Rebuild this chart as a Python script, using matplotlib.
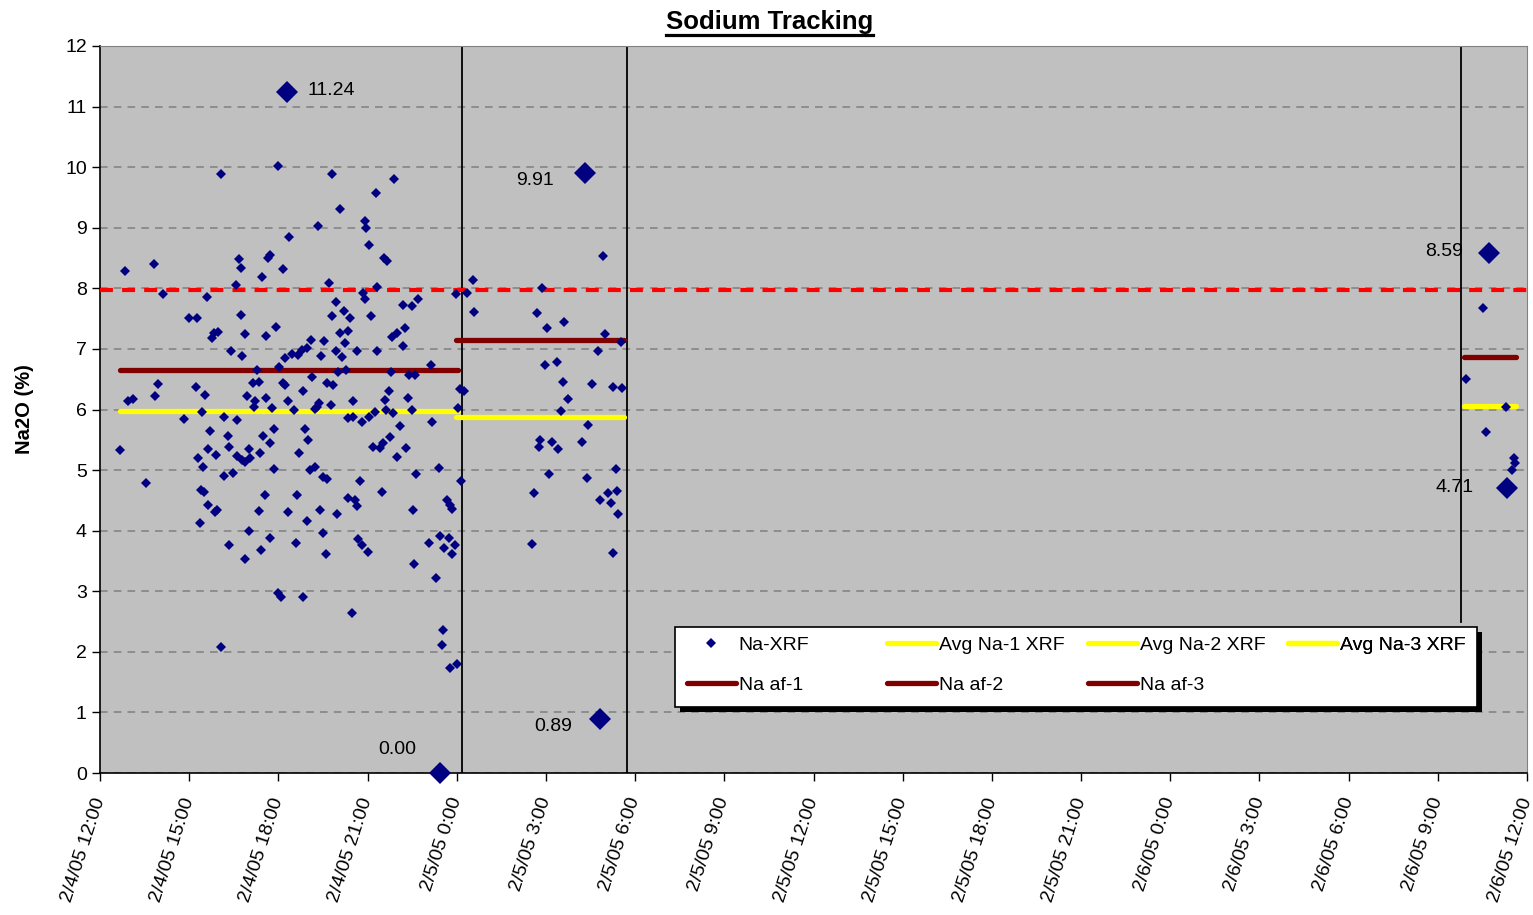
import matplotlib
matplotlib.use('Agg')
import matplotlib.pyplot as plt
import matplotlib.dates as mdates
from matplotlib.lines import Line2D
from matplotlib.patches import Rectangle
from matplotlib.ticker import FuncFormatter, MultipleLocator
import pandas as pd

plt.rcParams['font.family'] = ['Liberation Sans', 'DejaVu Sans']

start = pd.Timestamp('2005-02-04 12:00')

# Na-XRF readings: hours after 2/4/05 12:00, Na2O %
xrf_hours = [
    0.67, 0.84, 0.94, 1.11, 1.55, 1.82, 1.85, 1.95, 2.12, 2.83, 2.99, 3.26, 3.23, 3.30, 3.40,
    3.50, 3.36, 3.43, 3.46, 3.53, 3.60, 3.63, 3.63, 3.70, 3.77, 3.83, 3.97, 3.87, 3.94, 3.90,
    4.07, 4.07, 4.17, 4.17, 4.31, 4.34, 4.34, 4.41, 4.47, 4.57, 4.61, 4.61, 4.68, 4.74, 4.74,
    4.78, 4.78, 4.88, 4.88, 4.88, 4.94, 5.01, 5.01, 5.05, 5.15, 5.18, 5.21, 5.28, 5.35, 5.35,
    5.38, 5.42, 5.45, 5.48, 5.55, 5.58, 5.58, 5.65, 5.72, 5.72, 5.72, 5.79, 5.85, 5.85, 5.92,
    5.99, 5.99, 6.02, 6.09, 6.16, 6.16, 6.22, 6.22, 6.32, 6.32, 6.36,
    6.46, 6.66, 6.79, 6.96, 6.53, 6.59, 6.63, 6.69, 6.83, 6.83, 6.90, 6.96, 7.00, 7.06, 7.10,
    7.13, 7.23, 7.23, 7.30, 7.37, 7.33, 7.40, 7.43, 7.50, 7.50, 7.53, 7.60, 7.64, 7.64, 7.70,
    7.77, 7.80, 7.80, 7.84, 7.94, 7.94, 7.97, 8.01, 8.07, 8.07, 8.14, 8.21, 8.24, 8.27, 8.34,
    8.34, 8.34, 8.41, 8.48, 8.51, 8.51, 8.58, 8.64, 8.64, 8.68, 8.75, 8.81, 8.81, 8.85, 8.91,
    8.91, 8.95, 9.01, 9.05, 9.05, 9.12, 9.18, 9.25, 9.28, 9.32, 9.32, 9.42, 9.49, 9.52, 9.55,
    9.59, 9.62, 9.65, 9.72, 9.75, 9.79, 9.82, 9.86, 9.89, 9.99, 9.99, 10.09, 10.19, 10.19, 10.26,
    10.29, 10.36, 10.39, 10.49, 10.49, 10.53, 10.56, 10.60, 10.63, 10.70, 11.07, 11.13, 11.17, 11.30, 11.40,
    11.44, 11.50, 11.54, 11.57, 11.67, 11.74, 11.77, 11.77, 11.84, 11.84, 11.94, 12.01, 11.97, 12.04, 12.11,
    12.24, 12.14, 12.34, 12.55, 12.58,
    14.53, 14.60, 14.70, 14.77, 14.80, 14.87, 14.97, 15.04, 15.10, 15.20, 15.37, 15.41, 15.51, 15.57, 15.61,
    15.74, 16.21, 16.38, 16.41, 16.55, 16.75, 16.82, 16.92, 16.99, 17.09, 17.19, 17.26, 17.26, 17.36, 17.39,
    17.42, 17.52, 17.56,
    45.95, 46.52, 46.62, 47.29, 47.49, 47.56, 47.60,
]
xrf_values = [
    5.33, 8.29, 6.14, 6.17, 4.79, 8.40, 6.22, 6.42, 7.91, 5.84, 7.51, 7.51, 6.37, 5.20, 4.67,
    4.64, 4.13, 5.96, 5.05, 6.24, 7.86, 5.35, 4.42, 5.65, 7.18, 7.26, 7.28, 4.31, 4.34, 5.25,
    9.89, 2.08, 5.88, 4.90, 5.56, 5.38, 3.76, 6.97, 4.95, 8.06, 5.83, 5.23, 8.49, 8.34, 7.56,
    6.88, 5.17, 7.25, 5.13, 3.53, 6.22, 5.35, 4.00, 5.20, 6.44, 6.04, 6.14, 6.65, 6.45, 4.33,
    5.28, 3.68, 8.19, 5.56, 4.59, 7.21, 6.19, 8.50, 8.55, 5.45, 3.88, 6.03, 5.68, 5.02, 7.36,
    10.02, 2.97, 6.70, 2.91, 8.32, 6.44, 6.85, 6.41, 6.14, 4.31, 8.85,
    6.92, 6.90, 6.98, 7.02, 5.99, 3.80, 4.59, 5.28, 6.31, 2.91, 5.68, 4.16, 5.50, 5.00, 7.15,
    6.54, 5.05, 6.01, 6.04, 6.11, 9.03, 4.34, 6.88, 4.89, 3.96, 7.13, 3.62, 6.44, 4.85, 8.09,
    6.07, 9.89, 7.54, 6.40, 7.77, 6.97, 4.28, 6.62, 9.31, 7.26, 6.87, 7.63, 7.10, 6.65, 7.30,
    5.86, 4.54, 7.51, 2.64, 6.14, 5.88, 4.51, 6.97, 4.41, 3.86, 4.82, 5.79, 3.76, 7.92, 9.11,
    7.82, 9.00, 3.65, 8.72, 5.88, 7.54, 5.38, 5.96, 9.57, 8.02, 6.97, 5.36, 4.64, 5.45, 8.50,
    6.16, 5.99, 8.45, 6.31, 5.55, 6.62, 7.20, 5.94, 9.81, 7.26, 5.22, 5.73, 7.73, 7.05, 7.35,
    5.36, 6.19, 6.57, 7.71, 5.99, 4.34, 3.45, 6.57, 4.94, 7.82, 3.80, 6.74, 5.79, 3.22, 5.03,
    3.91, 2.11, 2.36, 3.71, 4.51, 3.88, 4.42, 1.73, 4.36, 3.62, 3.76, 1.80, 7.91, 6.03, 6.34,
    6.31, 4.82, 7.92, 8.14, 7.61,
    3.78, 4.62, 7.59, 5.38, 5.50, 8.01, 6.74, 7.35, 4.94, 5.46, 6.78, 5.35, 5.98, 6.45, 7.45,
    6.17, 5.46, 4.87, 5.74, 6.42, 6.97, 4.51, 8.53, 7.25, 4.62, 4.46, 6.37, 3.63, 5.02, 4.66,
    4.28, 7.12, 6.36,
    6.50, 7.68, 5.63, 6.04, 5.00, 5.20, 5.12,
]

# highlighted extremes (labelled)
big_hours = [6.29, 16.31, 16.82, 11.44, 46.72, 47.33]
big_values = [11.24, 9.91, 0.89, 0.00, 8.59, 4.71]
big_offsets = [(15, 1), (-22, -6), (-20, -5), (-17, 17), (-19, 1), (-24, 0)]
big_align = ['left', 'right', 'right', 'right', 'right', 'right']

# run averages / af values: (start hour, end hour, value)
avg_names = ['Avg Na-1 XRF', 'Avg Na-2 XRF', 'Avg Na-3 XRF']
avg_segments = [(0.67, 12.04, 5.98), (11.97, 17.63, 5.88), (45.88, 47.63, 6.06)]
af_names = ['Na af-1', 'Na af-2', 'Na af-3']
af_segments = [(0.67, 12.04, 6.66), (11.97, 17.63, 7.15), (45.88, 47.63, 6.86)]

limit_value = 7.98
divider_hours = [12.17, 17.72, 45.79]
divider_bottoms = [0, 0, 2.5]


def to_time(h):
    return (start + pd.Timedelta(hours=h)).to_pydatetime()


fig = plt.figure(figsize=(15.33, 9.15), dpi=100)
ax = fig.add_axes([100 / 1533, 1 - 773 / 915, 1427 / 1533, 727 / 915])
ax.set_facecolor('#C0C0C0')

ax.set_ylim(0, 12)
ax.set_xlim(to_time(0), to_time(48))
ax.yaxis.set_major_locator(MultipleLocator(1))
ax.grid(axis='y', color='#808080', linestyle=(0, (5, 4)), linewidth=1.1, zorder=0)
ax.set_axisbelow(True)

# divider lines
for h, b in zip(divider_hours, divider_bottoms):
    ax.plot([to_time(h), to_time(h)], [b, 12], color='black', linewidth=1.3, zorder=2)

# limit line
ax.axhline(limit_value, color='#FF0000', linewidth=3, dashes=(3.1, 2.2), zorder=3)

avg_handles = []
for name, (h0, h1, v) in zip(avg_names, avg_segments):
    ln, = ax.plot([to_time(h0), to_time(h1)], [v, v], color='#FFFF00', linewidth=3.8,
                  solid_capstyle='round', label=name, zorder=3)
    avg_handles.append(ln)

af_handles = []
for name, (h0, h1, v) in zip(af_names, af_segments):
    ln, = ax.plot([to_time(h0), to_time(h1)], [v, v], color='#800000', linewidth=3.8,
                  solid_capstyle='round', label=name, zorder=3)
    af_handles.append(ln)

xrf_times = [to_time(h) for h in xrf_hours]
pts, = ax.plot(xrf_times, xrf_values, linestyle='none', marker='D', markersize=5,
               markeredgewidth=0, color='#000080', label='Na-XRF', zorder=4)

big_times = [to_time(h) for h in big_hours]
ax.plot(big_times, big_values, linestyle='none', marker='D', markersize=11.5,
        markeredgewidth=0, color='#000080', zorder=5, clip_on=False)
for t, v, off, al in zip(big_times, big_values, big_offsets, big_align):
    ax.annotate(f'{v:.2f}', (t, v), xytext=off, textcoords='offset points',
                ha=al, va='center', fontsize=14, color='black', zorder=6)

# axes styling
for side in ['top', 'right']:
    ax.spines[side].set_color('#808080')
for side in ['left', 'bottom']:
    ax.spines[side].set_color('black')
    ax.spines[side].set_linewidth(1.2)

ax.xaxis.set_major_locator(mdates.HourLocator(byhour=range(0, 24, 3)))
ax.xaxis.set_major_formatter(FuncFormatter(
    lambda x, pos: (lambda d: f'{d.month}/{d.day}/{d:%y} {d.hour}:{d:%M}')(mdates.num2date(x))))
ax.tick_params(axis='both', direction='out', length=6, width=1, labelsize=14, colors='black')
ax.tick_params(axis='x', pad=12)
for lbl in ax.get_xticklabels():
    lbl.set_rotation(72)
    lbl.set_ha('right')
    lbl.set_va('center')
    lbl.set_rotation_mode('anchor')

ax.set_ylabel('Na2O (%)', fontsize=14.5, fontweight='bold', labelpad=22)

# legend: white box with black shadow, 4 fixed-width columns
fx0, fy0, fw, fh = 0.4029, 0.0908, 0.5621, 0.1100
ax.add_patch(Rectangle((fx0 + 0.0035, fy0 - 0.0069), fw, fh, transform=ax.transAxes,
                       facecolor='black', edgecolor='none', zorder=9, clip_on=False))
ax.add_patch(Rectangle((fx0, fy0), fw, fh, transform=ax.transAxes,
                       facecolor='white', edgecolor='black', linewidth=1.2, zorder=9.5,
                       clip_on=False))
columns = [[pts, af_handles[0]], [avg_handles[0], af_handles[1]],
           [avg_handles[1], af_handles[2]], [avg_handles[2]]]
col_x = [0.4114, 0.5515, 0.6924, 0.8325]
for hs, cx in zip(columns, col_x):
    lg = ax.legend(handles=hs, labels=[h.get_label() for h in hs], loc='upper left',
                   bbox_to_anchor=(cx, 0.1884), borderaxespad=0, borderpad=0,
                   frameon=False, fontsize=14, handlelength=2.5, handletextpad=0.15,
                   labelspacing=1.16)
    lg.set_zorder(10)
    ax.add_artist(lg)

# title with underline
title = fig.text(0.502, 1 - 22 / 915, 'Sodium Tracking', ha='center', va='center',
                 fontsize=18.5, fontweight='bold')
fig.canvas.draw()
bb = title.get_window_extent()
W, H = fig.bbox.width, fig.bbox.height
uy = (bb.y0 - 0.5) / H
fig.add_artist(Line2D([bb.x0 / W, bb.x1 / W], [uy, uy], color='black', linewidth=2.3))

fig.savefig('out.png', dpi=100)
